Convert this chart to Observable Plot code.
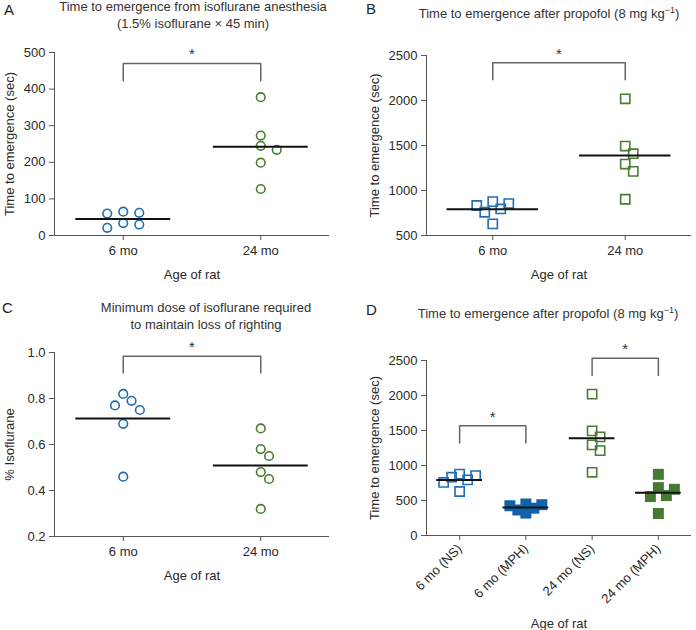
<!DOCTYPE html>
<html><head><meta charset="utf-8">
<script src="https://cdn.jsdelivr.net/npm/d3@7"></script>
<script src="https://cdn.jsdelivr.net/npm/@observablehq/plot@0.6"></script>
<style>
body{margin:0;background:#fff;overflow:hidden;}
#root{position:relative;width:696px;height:630px;font-family:"Liberation Sans",Arial,sans-serif;color:#333;overflow:hidden;}
.panel{position:absolute;}
.letter{position:absolute;font-size:15px;line-height:15px;color:#222;}
.title{position:absolute;font-size:13px;line-height:16.5px;text-align:center;width:340px;white-space:nowrap;}
.title sup{font-size:9px;line-height:0;vertical-align:5px;}
</style></head>
<body><div id="root"></div>
<script>
// ---------------- data ----------------
const ageGroups = ["6 mo", "24 mo"];
const treatGroups = ["6 mo (NS)", "6 mo (MPH)", "24 mo (NS)", "24 mo (MPH)"];

// A: time to emergence from isoflurane (sec)
const isoEmerge6 = [62, 34, 21, 30, 60, 65];
const isoEmerge24 = [378, 273, 245, 234, 199, 127];
// B: time to emergence after propofol (sec)
const propEmerge6 = [877, 855, 833, 795, 758, 629];
const propEmerge24 = [2019, 1494, 1409, 1294, 1213, 903];
// C: minimum isoflurane dose (%)
const isoDose6 = [0.82, 0.79, 0.77, 0.75, 0.69, 0.46];
const isoDose24 = [0.67, 0.58, 0.55, 0.48, 0.45, 0.32];
// D: propofol emergence with saline (NS) or methylphenidate (MPH)
const propNS6 = propEmerge6;
const propMPH6 = [450, 440, 425, 390, 365, 320];
const propNS24 = propEmerge24;
const propMPH24 = [874, 684, 660, 570, 556, 314];

// significance brackets: [from group, to group, bracket top, leg bottom]
const bracketA = [[0, 1, 470, 423]];
const bracketB = [[0, 1, 2419, 2230]];
const bracketC = [[0, 1, 0.984, 0.911]];
const bracketD = [[0, 1, 1569, 1320], [2, 3, 2533, 2286]];

const ticksA = [0, 100, 200, 300, 400, 500];
const ticksB = [500, 1000, 1500, 2000, 2500];
const ticksC = [0.2, 0.4, 0.6, 0.8, 1.0];
const ticksD = [0, 500, 1000, 1500, 2000, 2500];

// ---------------- styles ----------------
const BLUE = "#1f6db3", GREEN = "#4a7c32", BLUE_F = "#1262ab", GREEN_F = "#467a34";
const FONT = "'Liberation Sans', Arial, sans-serif";

// simple beeswarm (pixel space): returns horizontal offsets in px
function swarm(values, yPix, dist, step) {
  const order = d3.range(values.length).sort((i, j) => values[j] - values[i]);
  const placed = [], off = new Array(values.length);
  for (const i of order) {
    const y = yPix(values[i]);
    for (let k = 0; k < 40; k++) {
      const s = k === 0 ? 0 : (k % 2 ? Math.ceil(k / 2) : -k / 2);
      const x = s * step;
      if (placed.every(p => Math.hypot(p.x - x, p.y - y) >= dist)) {
        placed.push({x, y}); off[i] = x; break;
      }
    }
  }
  return off;
}

function panel(cfg) {
  const {left, top, width, height, mt, mb, ml, mr, yDomain, yTicks, yFormat, groups,
         series, brackets, yLabel, yLabelOffset, xLabelOffset, tickRotate, dist, step} = cfg;
  const frameW = width - ml - mr;
  const pxPerUnit = frameW / groups.length;
  const yPix = d3.scaleLinear(yDomain, [height - mb, mt]);
  const pts = [], means = [];
  series.forEach((s, gi) => {
    const off = swarm(s.values, yPix, dist, step);
    s.values.forEach((v, i) => pts.push({g: gi, x: gi + off[i] / pxPerUnit, v}));
    means.push({g: gi, m: d3.mean(s.values)});
  });
  const half = 0.345;
  const brPts = [];
  brackets.forEach(([a, b, t, btm], k) => {
    brPts.push({id: k, x: a, y: btm}, {id: k, x: a, y: t}, {id: k, x: b, y: t}, {id: k, x: b, y: btm});
  });
  const stars = brackets.map(([a, b, t]) => ({x: (a + b) / 2, y: t}));
  const marks = [
    Plot.ruleX([-0.5], {stroke: "#555", strokeWidth: 1}),
    Plot.ruleY([yDomain[0]], {stroke: "#555", strokeWidth: 1}),
    Plot.axisY({ticks: yTicks, tickFormat: yFormat, tickSize: 5, tickPadding: 4, stroke: "#555",
      label: yLabel, labelAnchor: "center", labelOffset: yLabelOffset, labelArrow: "none", fill: "#2a2a2a"}),
    Plot.axisX({ticks: d3.range(groups.length), tickFormat: i => groups[i], tickSize: 5,
      tickPadding: tickRotate ? 6 : 5, tickRotate: tickRotate || 0, stroke: "#555",
      label: "Age of rat", labelAnchor: "center", labelOffset: xLabelOffset, labelArrow: "none", fill: "#2a2a2a"}),
    Plot.line(brPts, {x: "x", y: "y", z: "id", stroke: "#666", strokeWidth: 1.5}),
    Plot.text(stars, {x: "x", y: "y", text: () => "*", lineAnchor: "bottom", dy: -4, fontSize: 15, fill: "#333"})
  ];
  series.forEach((s, gi) => {
    marks.push(Plot.dot(pts.filter(p => p.g === gi), {x: "x", y: "v", r: s.r, symbol: s.symbol,
      stroke: s.stroke, fill: s.fill, strokeWidth: s.sw}));
  });
  marks.push(Plot.ruleY(means, {x1: d => d.g - half, x2: d => d.g + half, y: "m", stroke: "#111", strokeWidth: 2}));
  const svg = Plot.plot({
    width, height, marginTop: mt, marginBottom: mb, marginLeft: ml, marginRight: mr,
    x: {type: "linear", domain: [-0.5, groups.length - 0.5]},
    y: {domain: yDomain},
    style: {fontFamily: FONT, fontSize: "13px", color: "#333", background: "transparent", overflow: "visible"},
    marks
  });
  const wrap = document.createElement("div");
  wrap.className = "panel";
  wrap.style.left = left + "px"; wrap.style.top = top + "px";
  wrap.appendChild(svg);
  document.getElementById("root").appendChild(wrap);
}

const circ = (values, color) => ({values, stroke: color, fill: "none", symbol: "circle", r: 4.3, sw: 1.6});
const sq = (values, color) => ({values, stroke: color, fill: "none", symbol: "square", r: 5.2, sw: 1.6});
const sqF = (values, color) => ({values, stroke: "none", fill: color, symbol: "square", r: 6.2, sw: 0});

panel({left: 0, top: 0, width: 348, height: 290, mt: 52, mb: 55, ml: 54, mr: 19,
  yDomain: [0, 500], yTicks: ticksA, yFormat: d3.format("d"), groups: ageGroups,
  series: [circ(isoEmerge6, BLUE), circ(isoEmerge24, GREEN)], brackets: bracketA,
  yLabel: "Time to emergence (sec)", yLabelOffset: 50, xLabelOffset: 43, dist: 9.5, step: 8});

panel({left: 348, top: 0, width: 348, height: 290, mt: 55, mb: 55, ml: 78, mr: 5,
  yDomain: [500, 2500], yTicks: ticksB, yFormat: d3.format("d"), groups: ageGroups,
  series: [sq(propEmerge6, BLUE), sq(propEmerge24, GREEN)], brackets: bracketB,
  yLabel: "Time to emergence (sec)", yLabelOffset: 57, xLabelOffset: 43, dist: 9, step: 8});

panel({left: 0, top: 300, width: 348, height: 290, mt: 52, mb: 54, ml: 54, mr: 19,
  yDomain: [0.2, 1.0], yTicks: ticksC, yFormat: d3.format(".1f"), groups: ageGroups,
  series: [circ(isoDose6, BLUE), circ(isoDose24, GREEN)], brackets: bracketC,
  yLabel: "% Isoflurane", yLabelOffset: 50, xLabelOffset: 43, dist: 9.5, step: 8.3});

panel({left: 348, top: 300, width: 348, height: 330, mt: 60, mb: 95, ml: 78, mr: 5,
  yDomain: [0, 2500], yTicks: ticksD, yFormat: d3.format("d"), groups: treatGroups,
  series: [sq(propNS6, BLUE), sqF(propMPH6, BLUE_F), sq(propNS24, GREEN), sqF(propMPH24, GREEN_F)],
  brackets: bracketD, tickRotate: -45,
  yLabel: "Time to emergence (sec)", yLabelOffset: 57, xLabelOffset: 92, dist: 8.5, step: 8});

// titles and panel letters
const root = document.getElementById("root");
function addText(cls, html, left, top) {
  const d = document.createElement("div");
  d.className = cls; d.innerHTML = html;
  d.style.left = left + "px"; d.style.top = top + "px";
  root.appendChild(d);
}
addText("letter", "A", 4, 2);
addText("letter", "B", 366, 1);
addText("letter", "C", 2, 300);
addText("letter", "D", 366, 302);
addText("title", "Time to emergence from isoflurane anesthesia<br>(1.5% isoflurane × 45 min)", 193 - 170, -1);
addText("title", "Time to emergence after propofol (8 mg kg<sup>−1</sup>)", 549 - 170, 6);
addText("title", "Minimum dose of isoflurane required<br>to maintain loss of righting", 206 - 170, 300);
addText("title", "Time to emergence after propofol (8 mg kg<sup>−1</sup>)", 548 - 170, 306);
</script>
</body></html>
